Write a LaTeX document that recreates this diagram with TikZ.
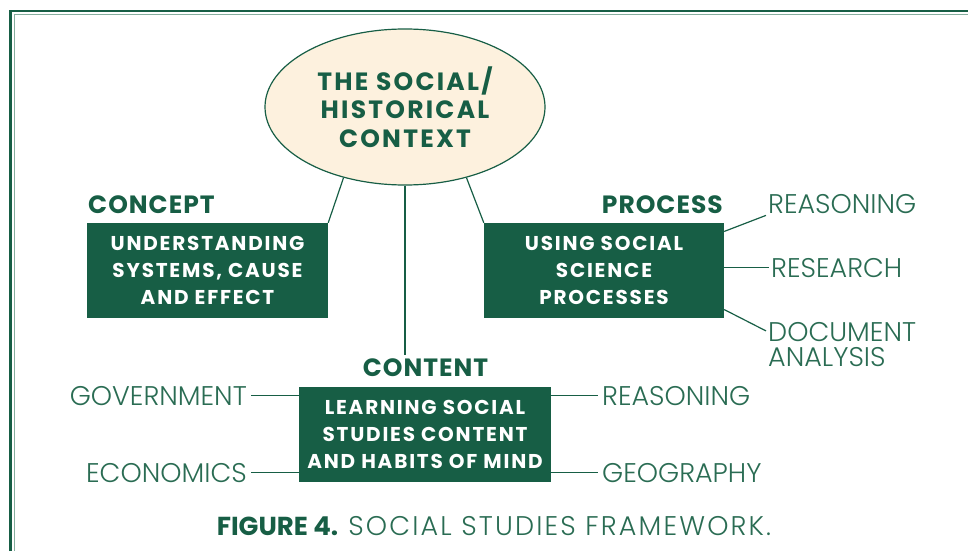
\documentclass[tikz,border=0pt]{standalone}
\usepackage{fontspec}
\setmainfont{Poppins}
\newfontfamily\thinfont{Poppins}[UprightFont={* Light}]
\newfontfamily\thinwide{Poppins}[UprightFont={* Light},LetterSpace=8]
\newfontfamily\boxfont{Poppins}[UprightFont={* Bold},LetterSpace=9]
\newfontfamily\headfont{Poppins}[UprightFont={* Bold},LetterSpace=4]
\usetikzlibrary{positioning,shapes.geometric}
\definecolor{DeepGreen}{RGB}{23,94,69}
\definecolor{PaleGreen}{RGB}{134,174,158}
\definecolor{Cream}{RGB}{253,241,222}
\definecolor{LeafGreen}{RGB}{42,108,83}
\tikzset{
  mainbox/.style={
    fill=DeepGreen,
    text=white,
    minimum height=95pt,
    inner sep=0pt,
    align=center,
    font=\boxfont\fontsize{20}{27}\selectfont
  },
  headlabel/.style={
    text=DeepGreen,
    inner sep=0pt,
    font=\headfont\fontsize{25}{30}\selectfont
  },
  sublabel/.style={
    text=LeafGreen,
    inner sep=2pt,
    align=left,
    font=\thinfont\fontsize{27}{25}\selectfont
  },
  link/.style={draw=DeepGreen,line width=1.2pt}
}

\begin{document}
\begin{tikzpicture}[x=1pt,y=-1pt]
    \useasboundingbox (0,0) rectangle (968,551);
    % frame, top and left only
    \draw[DeepGreen,line width=2.6pt] (10.5,551) -- (10.5,11) -- (968,11);
    \draw[PaleGreen,line width=1.5pt] (14.5,551) -- (14.5,14.5) -- (968,14.5);

    \node[ellipse,draw=DeepGreen,fill=Cream,line width=1.2pt,minimum width=280pt,minimum height=156pt,
      inner sep=0pt,align=center,text=DeepGreen,font=\boxfont\fontsize{25}{28.5}\selectfont]
      (ctx) at (405,107) {THE SOCIAL/\\HISTORICAL\\CONTEXT};

    \node[mainbox,minimum width=241pt] (concept) at (207.5,270.5) {UNDERSTANDING\\SYSTEMS, CAUSE\\AND EFFECT};
    \node[mainbox,minimum width=240pt] (process) at (604,270.5) {USING SOCIAL\\SCIENCE\\PROCESSES};
    \node[mainbox,minimum width=252pt] (content) at (425,434) {LEARNING SOCIAL\\STUDIES CONTENT\\AND HABITS OF MIND};

    \node[headlabel,anchor=base west] (conceptlbl) at (88,213) {CONCEPT};
    \node[headlabel,anchor=base east] (processlbl) at (723,213) {PROCESS};
    \node[headlabel,anchor=base,inner sep=3pt] (contentlbl) at (425.5,376) {CONTENT};

    % process side
    \node[sublabel,anchor=base west] (reasP) at (766,213) {REASONING};
    \node[sublabel,anchor=base west] (research) at (769,277) {RESEARCH};
    \node[sublabel,anchor=north west] (docs) at (766,320) {DOCUMENT\\ANALYSIS};

    % content side
    \node[sublabel,anchor=base east,inner sep=4pt] (gov) at (251,405) {GOVERNMENT};
    \node[sublabel,anchor=base east,inner sep=4pt] (econ) at (251,482) {ECONOMICS};
    \node[sublabel,anchor=base west,inner sep=4pt] (reasC) at (598,405) {REASONING};
    \node[sublabel,anchor=base west,inner sep=4pt] (geo) at (598,482) {GEOGRAPHY};

    \node[anchor=base,inner sep=0pt,text=DeepGreen] (caption) at (494,535)
      {{\bfseries\fontsize{26}{30}\selectfont FIGURE 4.}\hspace{10pt}{\thinwide\fontsize{27}{30}\selectfont\color{LeafGreen}SOCIAL STUDIES FRAMEWORK.}};

    \draw[link] (ctx.229) -- (concept.north east);
    \draw[link] (ctx.south) -- (ctx.south |- contentlbl.north);
    \draw[link] (ctx.311) -- (process.north west);

    \draw[link] (process.18) -- (reasP.south west);
    \draw[link] (process.east |- research.west) -- (research.west);
    \draw[link] (process.-18) -- (docs.170);

    \draw[link] (gov.east) -- (gov.east -| content.west);
    \draw[link] (econ.east) -- (econ.east -| content.west);
    \draw[link] (reasC.west -| content.east) -- (reasC.west);
    \draw[link] (geo.west -| content.east) -- (geo.west);
\end{tikzpicture}
\end{document}
